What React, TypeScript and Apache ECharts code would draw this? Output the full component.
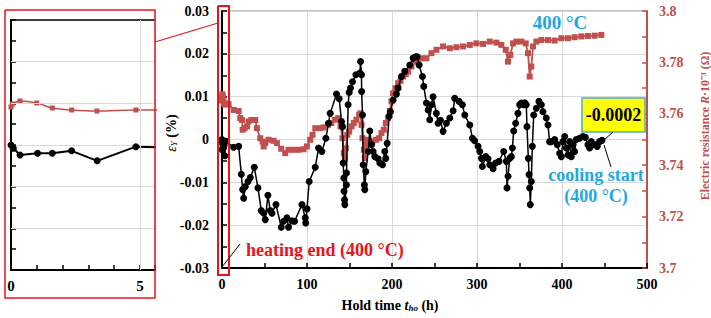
import React, { useEffect, useRef } from 'react';
import * as echarts from 'echarts';

// ---- data ----
const strainHours = [
  0, 0.09, 0.35, 1.03, 1.6, 2.35, 3.34, 4.84,
  13.7, 19.6, 22.7, 24.3, 25.5, 27.4, 30.6, 33.3, 38.0, 42.3, 46.2, 49, 50.9, 54, 56.8, 58.8, 63.5,
  69.7, 72.5, 76.4, 78.3, 82.3, 85.4, 94, 98, 98.5, 100, 102.6, 109.7, 113.6, 117.5, 122.2, 125.3, 127.3,
  134.7, 137.9, 140.6, 141.8, 142.6, 143.3, 143.6, 144.2, 144.5, 146.3, 146.5, 148.4, 149.6, 151.2, 153.5,
  157.5, 162.2, 163, 164.1, 164.3, 165.3, 166.1, 167.5, 168, 169.2, 172, 173.9, 175.9, 177.8, 179.8, 183.7,
  185.7, 188.8, 191.5, 192.7, 194.3, 196.6, 198.2, 201.3, 205.2, 207.2, 211.1, 215, 220.9, 224.8, 228, 229.5,
  231.9, 235.8, 237.4, 240.5, 242.5, 244.4, 246.4, 248.3, 252.2, 254.2, 257, 260.1, 264, 268, 271.9, 273.8,
  278.9, 282.8, 285.6, 291.5, 294.6, 297.3, 301.2, 303.2, 305.2, 306.3, 310.3, 313, 315, 318.9, 322, 325.9,
  331.4, 334.5, 335.3, 336.5, 338.5, 340.4, 341.6, 343.2, 345.5, 348.2, 350.2, 352.2, 354.9, 356.1, 358,
  358.8, 360.4, 361.2, 362, 362.7, 363.9, 365.1, 366.7, 369.8, 372.9, 375.7, 377.6, 381.5, 383.5, 385.4,
  387.4, 391.4, 394.5, 397.2, 399.2, 401.1, 403.1, 405.1, 407, 409, 410.9, 412.9, 414.9, 416.8, 420.7,
  424.6, 427.4, 430.5, 432.5, 434.4, 438.4, 441.5, 444.2, 447,
];
const strainPct = [
  0, -0.0008, -0.0024, -0.002, -0.002, -0.0014, -0.0038, -0.0004,
  -0.0018, -0.0016, -0.0081, -0.0117, -0.0137, -0.011, -0.0098, -0.0089, -0.0065, -0.0113, -0.0166, -0.0172, -0.0187, -0.013, -0.0166, -0.0172, -0.0152,
  -0.0205, -0.0191, -0.0183, -0.0205, -0.019, -0.0191, -0.0152, -0.0183, -0.0195, -0.0162, -0.0098, -0.0065, -0.002, -0.0028, 0.0003, 0.0038, 0.0061,
  0.0106, 0.0095, 0.0042, 0.003, -0.0055, -0.009, -0.0121, -0.0141, -0.0152, -0.0106, -0.0078, 0.0081, 0.011, 0.012, 0.0135,
  0.0151, 0.0155, 0.0182, 0.0151, 0.0112, 0.0057, -0.0059, -0.0106, -0.0117, -0.0075, -0.0028, 0.002, -0.0012, -0.0028, -0.004, -0.0045,
  -0.0055, -0.0059, -0.0028, -0.0044, -0.0009, 0.0054, 0.0065, 0.0092, 0.0106, 0.012, 0.0147, 0.0159, 0.0174, 0.019, 0.0193, 0.0193,
  0.0174, 0.0147, 0.0124, 0.0085, 0.0069, 0.0046, 0.0081, 0.01, 0.0061, 0.0038, 0.0045, 0.0019, 0.0038, 0.005, 0.0067, 0.0096,
  0.0089, 0.0081, 0.0057, 0.0034, 0.0003, -0.0003, -0.0016, -0.0028, -0.0044, -0.0063, -0.004, -0.0045, -0.0059, -0.0068, -0.0055, -0.0051,
  -0.0028, -0.0051, -0.0113, -0.0086, -0.0044, -0.004, -0.002, 0.002, 0.0038, 0.0061, 0.0081, 0.0085, 0.0081, 0.0086, 0.0081,
  0.003, -0.0044, -0.0082, -0.0113, -0.0152, -0.0098, -0.0016, 0.0057, 0.0073, 0.0089, 0.0081, 0.0065, 0.005, 0.0034, -0.0005,
  -0.0005, 0, -0.0012, -0.0032, -0.004, -0.0005, 0.0007, -0.002, -0.0036, -0.0005, -0.004, -0.0012, -0.0028, 0, 0.0003,
  0.0007, 0.0005, -0.0012, -0.002, -0.0005, -0.0012, -0.0016, -0.0005, -0.0002,
];

const resHours = [
  0, 0.05, 0.35, 1.0, 1.6, 2.35, 3.33, 4.84,
  7.8, 13.7, 19.6, 21.5, 23.5, 24.3, 26.6, 29.4, 31.3, 34.5, 39.2, 41.1, 45, 47.8, 49, 50.9, 54.8, 60.7,
  64.6, 69.7, 74.4, 78.3, 84.2, 90.1, 96, 99.9, 103.8, 106.5, 109.7, 115.5, 119.5, 124.6, 128.5, 132.8,
  136.7, 139.4, 141.8, 143.3, 144.5, 145.7, 147.3, 149.6, 152.4, 155.1, 158.2, 161.4, 162.9, 164.1, 165.3,
  166.9, 168, 169.2, 170.8, 173.9, 177, 181, 184.9, 187.6, 190.4, 192.7, 195.4, 197.4, 199.4, 201.3, 204.1,
  207.2, 210, 213.1, 216.2, 219, 222.9, 226.8, 230.7, 234.6, 240.5, 246.4, 252.3, 260.1, 268, 275.8, 283.6,
  291.5, 299.3, 307.1, 315, 322.8, 328.7, 333.8, 336.5, 339.2, 342.4, 346.3, 352.2, 357.3, 360, 362, 363.9,
  365.9, 369.8, 375.7, 383.5, 391.3, 399.2, 407, 414.8, 422.7, 430.5, 438.4, 446.2,
];
const resValue = [
  3.7652, 3.7664, 3.7676, 3.7668, 3.7648, 3.764, 3.7636, 3.764,
  3.7637, 3.7615, 3.7611, 3.7583, 3.7576, 3.7538, 3.7544, 3.7551, 3.757, 3.7576, 3.7576, 3.7544, 3.7505, 3.7492, 3.7473, 3.7486, 3.7499, 3.7495,
  3.7486, 3.7464, 3.7447, 3.746, 3.746, 3.746, 3.7462, 3.7473, 3.7499, 3.7518, 3.7544, 3.7544, 3.7547, 3.7557, 3.7564, 3.7577,
  3.7583, 3.7551, 3.7505, 3.7447, 3.7428, 3.7466, 3.7518, 3.7531, 3.7551, 3.7564, 3.7577, 3.7596, 3.7602, 3.7557, 3.7505,
  3.746, 3.7428, 3.7479, 3.7499, 3.7492, 3.7492, 3.7499, 3.7505, 3.7525, 3.7538, 3.7564, 3.7583, 3.7611, 3.7648, 3.768, 3.77,
  3.7719, 3.7728, 3.7745, 3.7754, 3.7764, 3.7784, 3.7803, 3.7814, 3.7816, 3.7816, 3.7836, 3.7849, 3.7862, 3.7855, 3.7859, 3.7862,
  3.7868, 3.7874, 3.7872, 3.7881, 3.7877, 3.7868, 3.7849, 3.7803, 3.7829, 3.7874, 3.7881, 3.7881, 3.7874, 3.7836, 3.7745, 3.7784,
  3.7862, 3.7881, 3.7887, 3.7887, 3.7885, 3.7894, 3.7894, 3.7898, 3.7901, 3.7903, 3.7904, 3.7907,
];

// inset grid positions (values on the inset's own axes)
const insetGridStrain = [-0.02, -0.01, 0.01, 0.02];
const insetGridHours = [5];

const endValueLabel = '-0.0002';
const tempLabel = '400 °C';
const heatingLabel = 'heating end (400 °C)';
const coolingLabel = ['cooling start', '(400 °C)'];

const FONT = "'Liberation Serif', 'Times New Roman', serif";
const RED = '#c0504d';
const BRIGHT_RED = '#e8141c';
const CYAN = '#1fa8e0';
const GRID = '#d9d9d9';

const fmt2 = (v: number) => String(+v.toFixed(2));

export default function App() {
  const ref = useRef<HTMLDivElement>(null);
  useEffect(() => {
    document.body.style.margin = '0';
    if (!ref.current) return;
    const chart = echarts.init(ref.current, null, { renderer: 'svg' });
    const strainData = strainHours.map((t, i) => [t, strainPct[i]]);
    const resData = resHours.map((t, i) => [t, resValue[i]]);
    const labelStyle = { fontFamily: FONT, fontWeight: 'bold' as const, fontSize: 14, color: '#000' };

    const option: any = {
      animation: false,
      backgroundColor: '#fff',
      grid: [
        { left: 222, top: 11, width: 425, height: 257, show: true, borderColor: '#808080', borderWidth: 1 },
        { left: 11, top: 20, width: 144, height: 250, show: false },
      ],
      xAxis: [
        {
          gridIndex: 0, type: 'value', min: 0, max: 500, interval: 100,
          axisLine: { show: true, onZero: false, lineStyle: { color: '#000', width: 2 } },
          axisTick: { show: true, inside: true, length: 5, lineStyle: { color: '#000', width: 1.5 } },
          minorTick: { show: true, splitNumber: 2, length: 5, lineStyle: { color: '#000', width: 1.5 } },
          splitLine: { show: true, lineStyle: { color: GRID, width: 1 } },
          axisLabel: { ...labelStyle, margin: 9 },
        },
        {
          gridIndex: 1, type: 'value', min: 0, max: 5.58, interval: 5,
          axisLine: { show: true, onZero: false, lineStyle: { color: '#000', width: 2 } },
          axisTick: { show: true, inside: true, length: 5, lineStyle: { color: '#000', width: 1.5 } },
          minorTick: { show: true, splitNumber: 5, length: 5, lineStyle: { color: '#000', width: 1.5 } },
          splitLine: { show: true, lineStyle: { color: GRID, width: 1 } },
          axisLabel: { ...labelStyle, fontSize: 15, margin: 8, showMaxLabel: false },
        },
        {
          // top border of inset
          gridIndex: 1, type: 'value', position: 'top', min: 0, max: 5.58,
          axisLine: { show: true, onZero: false, lineStyle: { color: '#000', width: 1.5 } },
          axisTick: { show: false }, axisLabel: { show: false }, splitLine: { show: false },
        },
      ],
      yAxis: [
        {
          gridIndex: 0, type: 'value', min: -0.03, max: 0.03, interval: 0.01,
          axisLine: { show: true, onZero: false, lineStyle: { color: '#000', width: 2 } },
          axisTick: { show: true, inside: true, length: 5, lineStyle: { color: '#000', width: 1.5 } },
          minorTick: { show: true, splitNumber: 2, length: 5, lineStyle: { color: '#000', width: 1.5 } },
          splitLine: { show: true, lineStyle: { color: GRID, width: 1 } },
          axisLabel: { ...labelStyle, margin: 13, formatter: fmt2 },
        },
        {
          gridIndex: 0, type: 'value', position: 'right', min: 3.7, max: 3.8, interval: 0.02,
          axisLine: { show: true, onZero: false, lineStyle: { color: RED, width: 2 } },
          axisTick: { show: true, inside: true, length: 5, lineStyle: { color: RED, width: 1.5 } },
          minorTick: { show: true, splitNumber: 2, length: 5, lineStyle: { color: RED, width: 1.5 } },
          splitLine: { show: false },
          axisLabel: { ...labelStyle, color: RED, margin: 12, formatter: fmt2 },
        },
        {
          gridIndex: 1, type: 'value', min: -0.03, max: 0.03, interval: 0.01,
          axisLine: { show: true, onZero: false, lineStyle: { color: '#000', width: 2 } },
          axisTick: { show: true, inside: true, length: 5, lineStyle: { color: '#000', width: 1.5 } },
          minorTick: { show: true, splitNumber: 2, length: 5, lineStyle: { color: '#000', width: 1.5 } },
          splitLine: { show: true, lineStyle: { color: GRID, width: 1 } },
          axisLabel: { show: false },
        },
        {
          gridIndex: 1, type: 'value', position: 'right', min: 3.7, max: 3.8,
          axisLine: { show: false }, axisTick: { show: false }, axisLabel: { show: false },
          splitLine: { show: false },
        },
      ],
      series: [
        {
          type: 'line', xAxisIndex: 0, yAxisIndex: 1, data: resData, z: 2,
          symbol: 'rect', symbolSize: 6, itemStyle: { color: RED },
          lineStyle: { color: RED, width: 1.8 },
        },
        {
          type: 'line', xAxisIndex: 0, yAxisIndex: 0, data: strainData, z: 3,
          symbol: 'circle', symbolSize: 7, itemStyle: { color: '#000' },
          lineStyle: { color: '#000', width: 1.5 },
        },
        {
          type: 'line', xAxisIndex: 1, yAxisIndex: 3, data: resData, z: 2, smooth: 0.3,
          symbol: 'rect', symbolSize: 5, itemStyle: { color: RED },
          lineStyle: { color: RED, width: 1.5 },
        },
        {
          type: 'line', xAxisIndex: 1, yAxisIndex: 2, data: strainData, z: 3,
          symbol: 'circle', symbolSize: 7, itemStyle: { color: '#000' },
          lineStyle: { color: '#000', width: 2 },
          markLine: {
            silent: true, symbol: ['none', 'none'], label: { show: false },
            lineStyle: { color: GRID, type: 'solid', width: 1 },
            emphasis: { disabled: true },
            data: [
              ...insetGridStrain.map((v) => ({ yAxis: v })),
              ...insetGridHours.map((v) => ({ xAxis: v })),
            ],
          },
        },
      ],
      graphic: [
        // inset frame and zoom indicator (open polylines, no fill)
        {
          type: 'polyline', z: 100,
          shape: { points: [[5, 10], [155, 10], [155, 298], [5, 298], [5, 10]] },
          style: { fill: null, stroke: BRIGHT_RED, lineWidth: 1.5 },
        },
        {
          type: 'polyline', z: 100,
          shape: { points: [[218, 6], [229, 6], [229, 275], [218, 275], [218, 6]] },
          style: { fill: null, stroke: BRIGHT_RED, lineWidth: 2 },
        },
        { type: 'line', shape: { x1: 155, y1: 42, x2: 218, y2: 23 }, style: { stroke: BRIGHT_RED, lineWidth: 1.2 }, z: 100 },
        // axis titles
        {
          type: 'text', x: 171, y: 133, rotation: Math.PI / 2, z: 100,
          style: {
            text: '{e|ε}{s|Y} (%)', fill: '#000', font: `bold 14px ${FONT}`,
            align: 'center', verticalAlign: 'middle',
            rich: {
              e: { fontFamily: FONT, fontStyle: 'italic', fontSize: 14, fontWeight: 'normal' },
              s: { fontFamily: FONT, fontStyle: 'italic', fontSize: 9, fontWeight: 'normal', verticalAlign: 'bottom', padding: [6, 0, 0, 0] },
            },
          },
        },
        {
          type: 'text', x: 390, y: 305, z: 100,
          style: {
            text: 'Hold time {t|t}{s|ho} (h)', fill: '#000', font: `bold 14px ${FONT}`,
            align: 'center', verticalAlign: 'middle',
            rich: {
              t: { fontFamily: FONT, fontStyle: 'italic', fontWeight: 'bold', fontSize: 14 },
              s: { fontFamily: FONT, fontStyle: 'italic', fontWeight: 'bold', fontSize: 9, verticalAlign: 'bottom', padding: [6, 0, 0, 0] },
            },
          },
        },
        {
          type: 'text', x: 705, y: 126, rotation: Math.PI / 2, z: 100,
          style: {
            text: 'Electric resistance {r|R}·10⁻³ (Ω)', fill: RED, font: `bold 12px ${FONT}`,
            align: 'center', verticalAlign: 'middle',
            rich: { r: { fontFamily: FONT, fontStyle: 'italic', fontWeight: 'bold', fontSize: 12 } },
          },
        },
        // annotations
        {
          type: 'text', x: 246, y: 250, z: 100,
          style: { text: heatingLabel, fill: BRIGHT_RED, font: `bold 18px ${FONT}`, align: 'left', verticalAlign: 'middle' },
        },
        { type: 'line', shape: { x1: 240, y1: 244, x2: 222, y2: 267 }, style: { stroke: '#000', lineWidth: 1 }, z: 100 },
        {
          type: 'text', x: 560, y: 22, z: 100,
          style: { text: tempLabel, fill: CYAN, font: `bold 19px ${FONT}`, align: 'center', verticalAlign: 'middle' },
        },
        { type: 'rect', shape: { x: 582, y: 98, width: 63, height: 34 }, style: { fill: '#ffff00', stroke: '#4bacc6', lineWidth: 1.5 }, z: 100 },
        {
          type: 'text', x: 613.5, y: 115, z: 101,
          style: { text: endValueLabel, fill: '#000', font: `bold 18px ${FONT}`, align: 'center', verticalAlign: 'middle' },
        },
        { type: 'line', shape: { x1: 613, y1: 132, x2: 604, y2: 140 }, style: { stroke: '#000', lineWidth: 1 }, z: 100 },
        { type: 'line', shape: { x1: 604, y1: 145, x2: 611, y2: 167 }, style: { stroke: '#000', lineWidth: 1 }, z: 100 },
        {
          type: 'text', x: 596, y: 175, z: 100,
          style: { text: coolingLabel[0], fill: CYAN, font: `bold 18px ${FONT}`, align: 'center', verticalAlign: 'middle' },
        },
        {
          type: 'text', x: 596, y: 196, z: 100,
          style: { text: coolingLabel[1], fill: CYAN, font: `bold 18px ${FONT}`, align: 'center', verticalAlign: 'middle' },
        },
      ],
    };
    chart.setOption(option);
    return () => chart.dispose();
  }, []);
  return <div ref={ref} style={{ width: 711, height: 318 }} />;
}
